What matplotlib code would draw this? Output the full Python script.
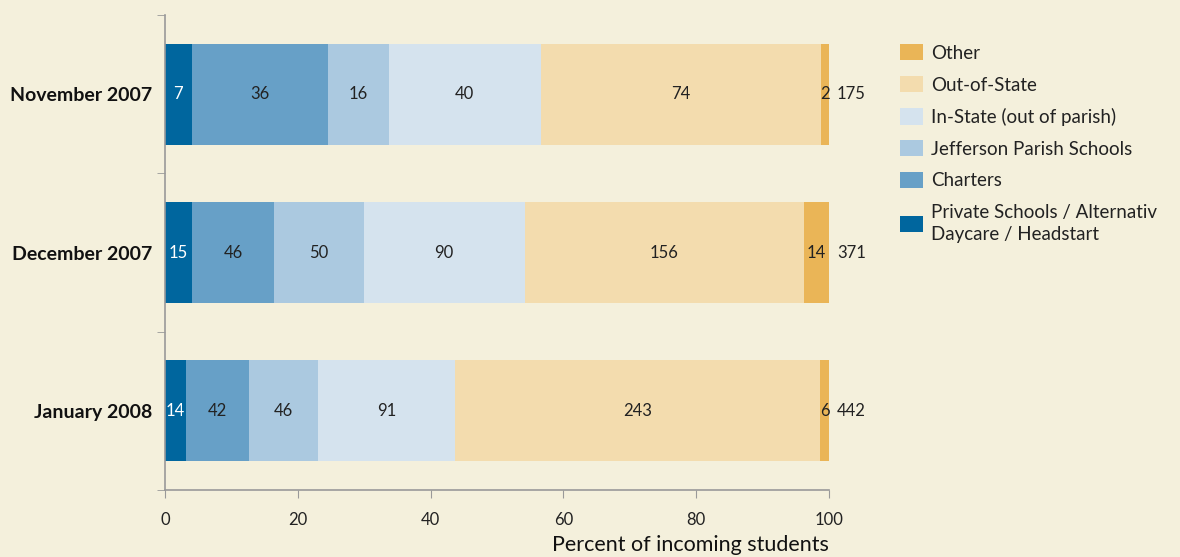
import numpy as np
import matplotlib.pyplot as plt
from matplotlib.patches import Patch

# data: counts of incoming students by origin
months = ['November 2007', 'December 2007', 'January 2008']
categories = ['Private Schools / Alternativ\nDaycare / Headstart', 'Charters',
              'Jefferson Parish Schools', 'In-State (out of parish)',
              'Out-of-State', 'Other']
private = [7, 15, 14]
charters = [36, 46, 42]
jefferson = [16, 50, 46]
in_state = [40, 90, 91]
out_state = [74, 156, 243]
other = [2, 14, 6]

colors = ['#00669e', '#67a0c7', '#abc9e0', '#d5e3ee', '#f3dcae', '#eab557']
bg = '#f4f0dc'
txt = '#222222'

plt.rcParams['font.family'] = ['Lato', 'DejaVu Sans']

series = [private, charters, jefferson, in_state, out_state, other]
counts = np.array(series, dtype=float)
totals = counts.sum(axis=0)
pct = counts / totals * 100

fig = plt.figure(figsize=(11.8, 5.57), dpi=100, facecolor=bg)
ax = fig.add_axes([0.1398, 0.1203, 0.7025 - 0.1398, 0.973 - 0.1203])
ax.set_facecolor(bg)

y = np.arange(len(months))
left = np.zeros(len(months))
for i, (vals, p) in enumerate(zip(series, pct)):
    ax.barh(y, p, left=left, height=0.64, color=colors[i], edgecolor='none')
    for j in range(len(months)):
        ax.text(left[j] + p[j] / 2, y[j], str(vals[j]), ha='center', va='center',
                fontsize=12, color='white' if i == 0 else txt)
    left += p

for j in range(len(months)):
    ax.text(101.2, y[j], str(int(totals[j])), ha='left', va='center',
            fontsize=12, color=txt)

ax.set_xlim(0, 100)
ax.set_ylim(2.5, -0.5)
ax.set_yticks(y)
ax.set_yticklabels(months, fontsize=14, fontweight='bold', color='#111111')
ax.set_yticks([-0.5, 0.5, 1.5, 2.5], minor=True)
ax.tick_params(axis='y', which='major', length=0, pad=9)
ax.tick_params(axis='y', which='minor', length=6, color='#999999', direction='out')
ax.set_xticks([0, 20, 40, 60, 80, 100])
ax.tick_params(axis='x', length=6, color='#999999', labelsize=12, labelcolor=txt, pad=10)
ax.set_xlabel('Percent of incoming students', fontsize=15.5, color='#111111',
              loc='right', labelpad=5)
for s in ['top', 'right']:
    ax.spines[s].set_visible(False)
for s in ['left', 'bottom']:
    ax.spines[s].set_color('#999999')
    ax.spines[s].set_linewidth(1.2)

handles = [Patch(facecolor=c, edgecolor='none') for c in colors][::-1]
leg = fig.legend(handles, categories[::-1], loc='upper left',
                 bbox_to_anchor=(0.756, 0.934), frameon=False, fontsize=13.5,
                 handlelength=1.25, handleheight=0.95, handletextpad=0.45,
                 labelspacing=0.76, borderaxespad=0)
for t in leg.get_texts():
    t.set_color(txt)
    t.set_linespacing(1.4)

fig.savefig('out.png', dpi=100, facecolor=bg)
